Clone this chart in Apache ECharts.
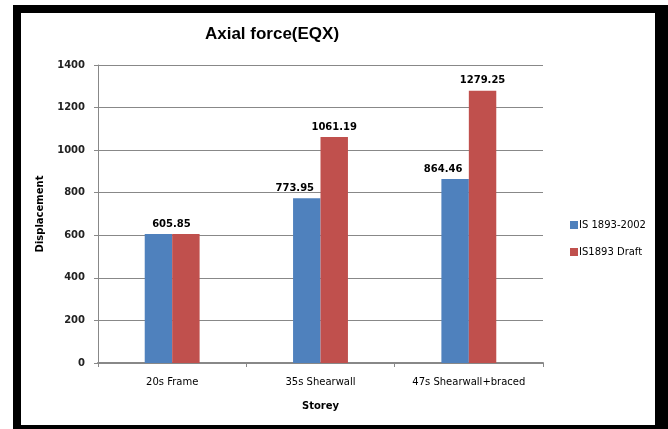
<!DOCTYPE html>
<html>
<head>
<meta charset="utf-8">
<script src="https://cdn.jsdelivr.net/npm/echarts@6/dist/echarts.min.js"></script>
<style>
  html, body { margin: 0; padding: 0; background: #fff; }
  #chart { width: 668px; height: 429px; }
</style>
</head>
<body>
<div id="chart"></div>
<script>
// Storey configurations on the x axis
const categories = ['20s Frame', '35s Shearwall', '47s Shearwall+braced'];
// Axial force under EQX for the two code versions
const seriesNames = ['IS 1893-2002', 'IS1893 Draft'];
const valuesIS2002 = [605.85, 773.95, 864.46];
const valuesDraft = [605.85, 1061.19, 1279.25];
const yTicks = [0, 200, 400, 600, 800, 1000, 1200, 1400];

const labelFont = { fontFamily: 'DejaVu Sans', fontWeight: 'bold', fontSize: 10, color: '#000' };

// The first storey has equal values, so a single label sits over the pair
const blueData = valuesIS2002.map((v, i) => ({
  value: v,
  label: i === 0 ? { offset: [13, 0] } : { offset: [-12, 0] }
}));
const redData = valuesDraft.map((v, i) => ({
  value: v,
  label: i === 0 ? { show: false } : {}
}));

const chart = echarts.init(document.getElementById('chart'), null, { renderer: 'canvas' });

chart.setOption({
  backgroundColor: '#fff',
  animation: false,
  title: {
    text: 'Axial force(EQX)',
    left: 267,
    top: 21,
    textAlign: 'center',
    textStyle: { fontFamily: 'Liberation Sans', fontWeight: 'bold', fontSize: 17, color: '#000' }
  },
  legend: {
    orient: 'vertical',
    left: 565,
    top: 215,
    itemWidth: 8,
    itemHeight: 8,
    itemGap: 17,
    icon: 'rect',
    textStyle: { fontFamily: 'DejaVu Sans', fontSize: 10, color: '#000', padding: [0, 0, 0, -4] },
    data: seriesNames
  },
  grid: { left: 98, right: 125, top: 65, bottom: 66, containLabel: false },
  xAxis: {
    type: 'category',
    data: categories,
    name: 'Storey',
    nameLocation: 'middle',
    nameGap: 38,
    nameTextStyle: { fontFamily: 'DejaVu Sans', fontWeight: 'bold', fontSize: 10, color: '#000' },
    axisLine: { lineStyle: { color: '#888', width: 2 } },
    axisTick: { show: true, length: 4, lineStyle: { color: '#888' } },
    axisLabel: { fontFamily: 'DejaVu Sans', fontSize: 10, color: '#000', margin: 14 }
  },
  yAxis: {
    type: 'value',
    min: yTicks[0],
    max: yTicks[yTicks.length - 1],
    interval: 200,
    name: 'Displacement',
    nameLocation: 'middle',
    nameGap: 53,
    nameTextStyle: { fontFamily: 'DejaVu Sans', fontWeight: 'bold', fontSize: 10, color: '#000' },
    axisLine: { show: true, lineStyle: { color: '#888' } },
    axisTick: { show: true, length: 4, lineStyle: { color: '#888' } },
    axisLabel: {
      fontFamily: 'DejaVu Sans', fontWeight: 'bold', fontSize: 10, color: '#222', margin: 13,
      formatter: (v) => String(v)
    },
    splitLine: { show: true, lineStyle: { color: '#888', width: 1 } }
  },
  series: [
    {
      name: seriesNames[0],
      type: 'bar',
      data: blueData,
      itemStyle: { color: '#4F81BD' },
      barGap: '0%',
      barCategoryGap: '63%',
      label: Object.assign({ show: true, position: 'top', distance: 5 }, labelFont)
    },
    {
      name: seriesNames[1],
      type: 'bar',
      data: redData,
      itemStyle: { color: '#C0504D' },
      barGap: '0%',
      barCategoryGap: '63%',
      label: Object.assign({ show: true, position: 'top', distance: 5 }, labelFont)
    }
  ],
  graphic: [
    // black frame around the chart
    { type: 'rect', shape: { x: 13, y: 5, width: 8, height: 424 }, style: { fill: '#000' }, z: 100 },
    { type: 'rect', shape: { x: 13, y: 5, width: 655, height: 8 }, style: { fill: '#000' }, z: 100 },
    { type: 'rect', shape: { x: 655, y: 5, width: 13, height: 424 }, style: { fill: '#000' }, z: 100 },
    { type: 'rect', shape: { x: 13, y: 425, width: 655, height: 4 }, style: { fill: '#000' }, z: 100 }
  ]
});
</script>
</body>
</html>
